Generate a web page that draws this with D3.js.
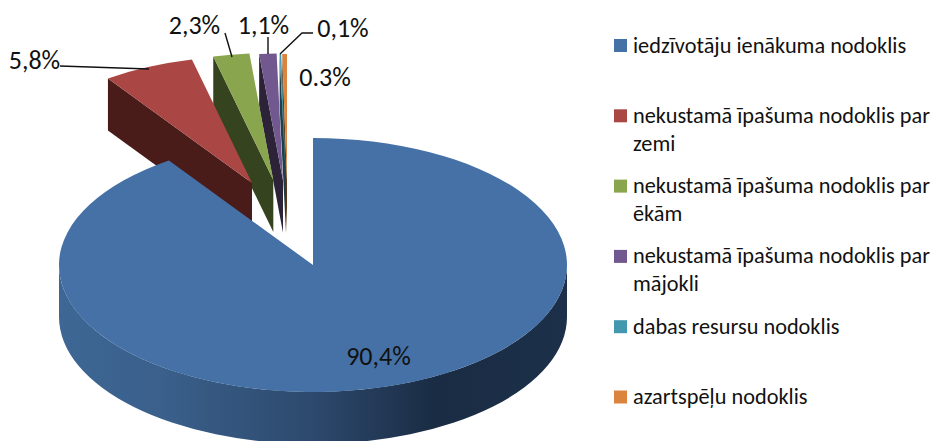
<!DOCTYPE html>
<html>
<head>
<meta charset="utf-8">
<script src="https://cdn.jsdelivr.net/npm/d3@7"></script>
<style>
html, body { margin: 0; padding: 0; background: #fff; overflow: hidden; }
text { font-family: Carlito, Lato, "Open Sans", sans-serif; fill: #111; }
</style>
</head>
<body>
<div id="chart"></div>
<script>
const categories = [
    "iedzīvotāju ienākuma nodoklis",
    "nekustamā īpašuma nodoklis par zemi",
    "nekustamā īpašuma nodoklis par ēkām",
    "nekustamā īpašuma nodoklis par mājokli",
    "dabas resursu nodoklis",
    "azartspēļu nodoklis"
];
const shares = [90.4, 5.8, 2.3, 1.1, 0.1, 0.3];
const shareLabels = ["90,4%", "5,8%", "2,3%", "1,1%", "0,1%", "0.3%"];

const topColors = ["#4571a7", "#aa4643", "#89a54e", "#71588f", "#4198af", "#db843d"];
const wallColors = ["#2d4a6e", "#4a1c19", "#36431f", "#2d2339", "#1b3f4b", "#5c3518"];

// how far each slice is pulled out of the pie, in px
const explode = [[0, 0], [-61, -82], [-39.7, -85], [-30, -84.6], [-27, -84], [-26, -84]];

const width = 934,
    height = 441,
    cx = 313,
    cy = 265,
    rx = 254,
    ry = 127,
    depth = 52;

const svg = d3.select("#chart")
    .append("svg")
    .attr("width", width)
    .attr("height", height)
    .style("display", "block");

const rimGrad = svg.append("defs").append("linearGradient")
    .attr("id", "rim")
    .attr("x1", 0).attr("x2", 1).attr("y1", 0).attr("y2", 0);
[[0, "#3e6795"], [0.2, "#3a608b"], [0.5, "#2d496d"], [0.74, "#1a2c44"], [1, "#1c3049"]].forEach(s => {
    rimGrad.append("stop").attr("offset", s[0]).attr("stop-color", s[1]);
});

const slices = d3.pie().sort(null).value(d => d)(shares);
const arc = d3.arc().innerRadius(0).outerRadius(rx);

function rimPoint(angle, i) {
    return [cx + explode[i][0] + rx * Math.sin(angle), cy + explode[i][1] - ry * Math.cos(angle)];
}

// small slices go first, the front ones paint over them
const order = d3.range(slices.length).reverse().filter(i => i !== 0);

order.forEach(i => {
    const d = slices[i];
    const outer = rimPoint(d.startAngle, i);
    const apex = [cx + explode[i][0], cy + explode[i][1]];
    svg.append("path")
        .attr("fill", wallColors[i])
        .attr("d", d3.line()([outer, apex, [apex[0], apex[1] + depth], [outer[0], outer[1] + depth]]) + "Z");
    svg.append("path")
        .attr("fill", topColors[i])
        .attr("transform", `translate(${apex[0]},${apex[1]}) scale(1,${ry / rx})`)
        .attr("d", arc(d));
});

// front wall of the big slice
svg.append("path")
    .attr("fill", "url(#rim)")
    .attr("d", `M${cx - rx},${cy} A${rx},${ry} 0 0 0 ${cx + rx},${cy} L${cx + rx},${cy + depth} A${rx},${ry} 0 0 1 ${cx - rx},${cy + depth} Z`);

svg.append("path")
    .attr("fill", topColors[0])
    .attr("transform", `translate(${cx},${cy}) scale(1,${ry / rx})`)
    .attr("d", arc(slices[0]));

// data labels and leader lines
const labelPos = [[378.5, 365], [34.5, 69], [194.5, 34], [263.5, 34], [343, 37], [325, 86]];
const leaders = [
    null,
    [[60, 66], [149, 69]],
    [[225, 33], [232, 57]],
    [[268, 37], [268, 54]],
    [[313, 33], [302, 33], [280, 54]],
    null
];

leaders.forEach(pts => {
    if (!pts) return;
    svg.append("path")
        .attr("fill", "none")
        .attr("stroke", "#111")
        .attr("stroke-width", 1.4)
        .attr("d", d3.line()(pts));
});

svg.selectAll(".share")
    .data(shareLabels)
    .join("text")
    .attr("class", "share")
    .attr("text-anchor", "middle")
    .attr("font-size", 26)
    .attr("x", (d, i) => labelPos[i][0])
    .attr("y", (d, i) => labelPos[i][1])
    .text(d => d);

// legend
const legendY = d3.scalePoint().domain(categories).range([45.5, 397]);
const legend = svg.selectAll(".legend")
    .data(categories)
    .join("g")
    .attr("class", "legend")
    .attr("transform", d => `translate(614,${legendY(d)})`);

legend.append("rect")
    .attr("y", -6.5)
    .attr("width", 13)
    .attr("height", 13)
    .attr("fill", (d, i) => topColors[i]);

legend.each(function(d) {
    const g = d3.select(this);
    const m = d.match(/^(.* par) (.*)$/);
    const lines = m ? [m[1], m[2]] : [d];
    lines.forEach((line, k) => {
        g.append("text")
            .attr("x", 19)
            .attr("y", 7 + k * 28)
            .attr("font-size", 22.3)
            .text(line);
    });
});
</script>
</body>
</html>
